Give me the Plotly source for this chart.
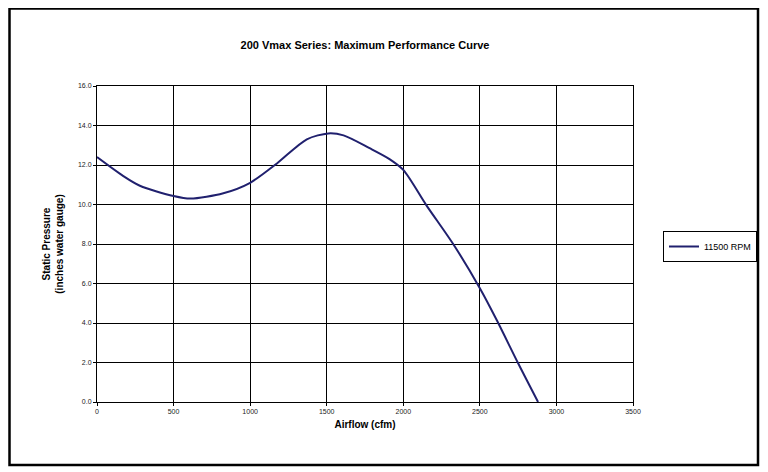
import plotly.graph_objects as go

airflow = [0, 170, 280, 500, 610, 825, 1000, 1175, 1370, 1510, 1610, 1780, 1910, 2000, 2150, 2330, 2500, 2610, 2750, 2880]
pressure = [12.4, 11.45, 10.95, 10.43, 10.3, 10.57, 11.1, 12.08, 13.3, 13.6, 13.5, 12.85, 12.3, 11.75, 9.97, 7.95, 5.76, 4.15, 1.96, 0.0]
series_name = "11500 RPM"
x_ticks = [0, 500, 1000, 1500, 2000, 2500, 3000, 3500]
y_ticks = [0, 2, 4, 6, 8, 10, 12, 14, 16]

FONT = "Liberation Sans, Arial, sans-serif"

fig = go.Figure()
fig.add_trace(go.Scatter(
    x=airflow, y=pressure, mode="lines", name=series_name,
    line=dict(color="#20206e", width=2, shape="spline", smoothing=0.8),
))

fig.update_layout(
    width=760, height=464,
    margin=dict(l=89, r=135, t=78, b=70),
    paper_bgcolor="white", plot_bgcolor="white",
    font=dict(family=FONT, color="#000"),
    title=dict(text="<b>200 Vmax Series: Maximum Performance Curve</b>",
               x=0.5, xref="paper", xanchor="center",
               y=1 - 37 / 464, yref="container", yanchor="middle",
               font=dict(size=11, family=FONT, color="#000")),
    showlegend=True,
    legend=dict(x=655 / 760, y=1 - 223 / 464, xref="container", yref="container",
                xanchor="left", yanchor="top",
                bordercolor="#000", borderwidth=1, bgcolor="white",
                font=dict(size=9, family=FONT), itemwidth=30,
                tracegroupgap=0),
    xaxis=dict(range=[0, 3500], tickvals=x_ticks,
               ticktext=[str(v) for v in x_ticks],
               showgrid=True, gridcolor="#000", gridwidth=1,
               showline=True, linecolor="#000", linewidth=1, mirror=True,
               ticks="outside", ticklen=3, tickcolor="#000",
               tickfont=dict(size=7, family=FONT, color="#222"),
               title=dict(text="<b>Airflow (cfm)</b>", font=dict(size=10, family=FONT), standoff=6),
               zeroline=False, fixedrange=True),
    yaxis=dict(range=[0, 16], tickvals=y_ticks,
               ticktext=[f"{v:.1f}" for v in y_ticks],
               showgrid=True, gridcolor="#000", gridwidth=1,
               showline=True, linecolor="#000", linewidth=1, mirror=True,
               ticks="outside", ticklen=3, tickcolor="#000",
               tickfont=dict(size=7, family=FONT, color="#222"),
               title=dict(text="<b>Static Pressure<br>(inches water gauge)</b>",
                          font=dict(size=10, family=FONT), standoff=12),
               zeroline=False, fixedrange=True),
    shapes=[dict(type="rect", xref="paper", yref="paper",
                 x0=(9.5 - 97) / 536, x1=(758 - 97) / 536,
                 y0=(402 - 465) / 316, y1=(402 - 8.5) / 316,
                 line=dict(color="#000", width=2.5), fillcolor="rgba(0,0,0,0)",
                 layer="below")],
)

fig.write_html("out.html")
